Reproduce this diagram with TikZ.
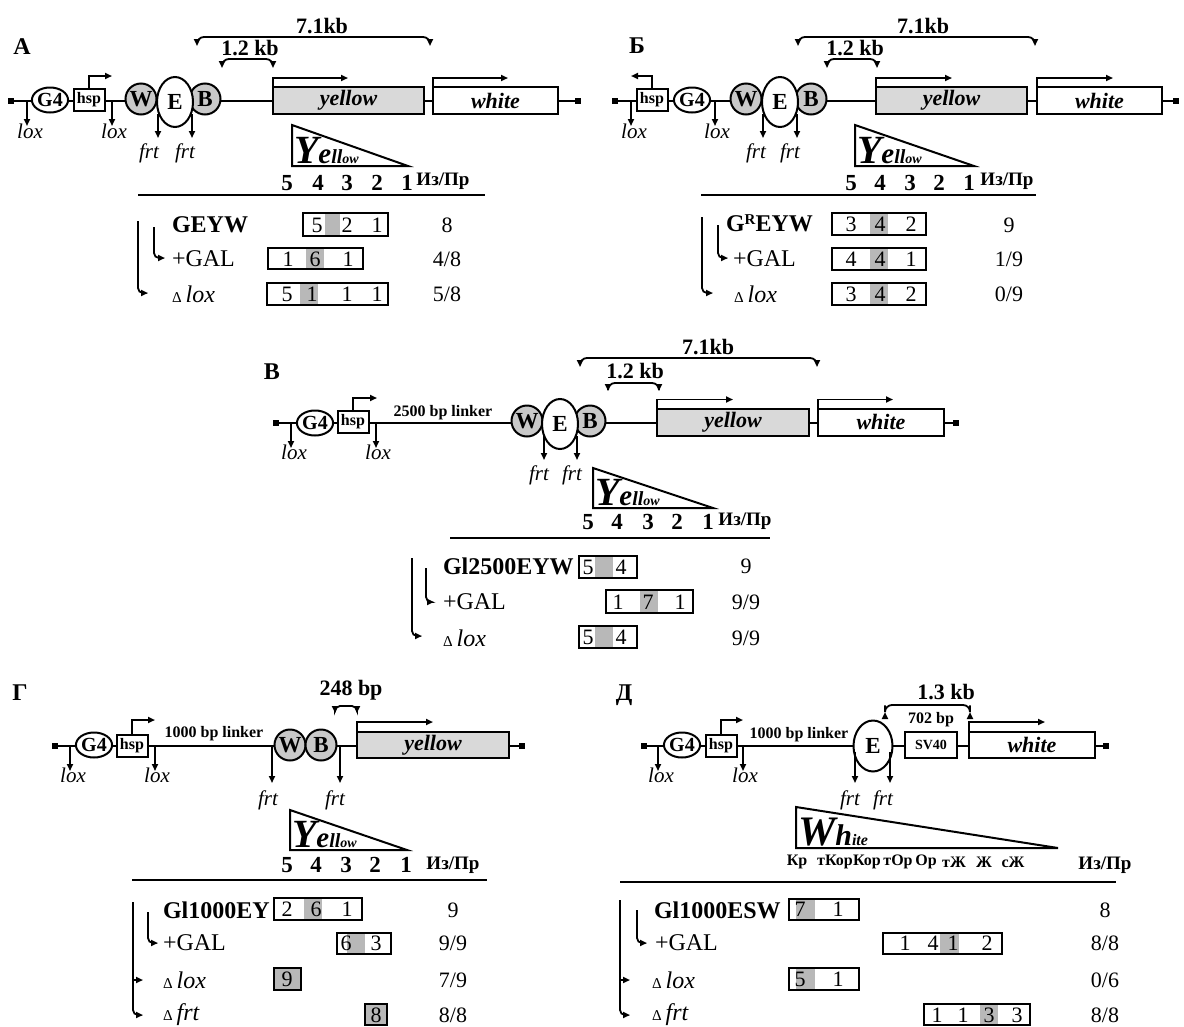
\documentclass[tikz,border=0pt]{standalone}
\usepackage{fontspec}
\setmainfont{Liberation Serif}
\usetikzlibrary{shapes.geometric, arrows.meta}
\definecolor{genegray}{gray}{0.85}
\definecolor{insgray}{gray}{0.79}
\definecolor{colgray}{gray}{0.72}
\newcommand{\fsz}[1]{\fontsize{#1}{#1}\selectfont}
\newcommand{\yellowword}{{\bfseries\itshape\fsz{40}Y\fsz{29}e\fsz{20}ll\fsz{14}ow}}
\newcommand{\whiteword}{{\bfseries\itshape\fsz{42}W\fsz{30}h\fsz{16}ite}}
\newcommand{\dsite}[1]{{\fsz{15}Δ}\,\textit{#1}}

\begin{document}
\begin{tikzpicture}[x=1pt, y=-1pt, line width=2pt,
    every node/.style={inner sep=0pt, outer sep=0pt},
    panel/.style={font=\fsz{24}\bfseries},
    endsq/.style={rectangle, fill, minimum size=6pt},
    gal4/.style={ellipse, draw, fill=white, minimum width=36pt, minimum height=25pt, font=\fsz{20}\bfseries},
    hspbox/.style={rectangle, draw, fill=white, minimum width=31pt, minimum height=22pt, font=\fsz{16}\bfseries},
    ins/.style={circle, draw, fill=insgray, minimum size=31pt, font=\fsz{23}\bfseries},
    enh/.style={ellipse, draw, fill=white, minimum width=36pt, minimum height=50pt, font=\fsz{23}\bfseries},
    gene/.style={rectangle, draw, minimum height=27pt, font=\fsz{22}\bfseries\itshape},
    sitelbl/.style={font=\fsz{21}\itshape},
    dist/.style={font=\fsz{22}\bfseries},
    linker/.style={font=\fsz{16}\bfseries},
    arr/.style={line width=1.7pt, -{Triangle[length=7pt,width=6pt]}},
    spanarr/.style={line width=1.8pt, {Triangle[length=7pt,width=6pt]}-{Triangle[length=7pt,width=6pt]}, rounded corners=7pt},
    rowarr/.style={line width=1.8pt, -{Triangle[length=7pt,width=6pt]}, rounded corners=5pt},
    grade/.style={font=\fsz{23}\bfseries},
    shade/.style={font=\fsz{16}\bfseries},
    head/.style={font=\fsz{19}\bfseries},
    rowname/.style={anchor=west, font=\fsz{24}},
    cell/.style={font=\fsz{22}},
    ratio/.style={font=\fsz{22}}]

\path[use as bounding box, fill=white] (0,0) rectangle (1184,1026);

%% ---------------- A ----------------
\node[panel] (labA) at (22,47) {A};
\coordinate (eA1) at (11,101);
\coordinate (eA2) at (578,101);
\draw (eA1) -- (eA2);
\node[endsq] (sqA1) at (eA1) {};
\node[endsq] (sqA2) at (eA2) {};
\draw[arr] (27,101) -- (27,126);
\draw[arr] (112,101) -- (112,126);
\node[sitelbl] (loxA1) at (30,131) {lox};
\node[sitelbl] (loxA2) at (114,131) {lox};
\node[gal4] (gA) at (50,100) {G4};
\node[hspbox] (hA) at (89,100) {hsp};
\draw[arr] (hA.north) |- (112,76);
\node[ins] (wA) at (141,99) {W};
\node[ins] (bA) at (205,99) {B};
\node[enh] (enA) at (175,102) {E};
\draw[arr] (158,114) -- (158,138);
\draw[arr] (192,114) -- (192,138);
\node[sitelbl] (frtA1) at (149,153) {frt};
\node[sitelbl] (frtA2) at (185,153) {frt};
\node[gene, fill=genegray, minimum width=151pt] (yA) at (348.5,100.5) {yellow};
\node[gene, fill=white, minimum width=125pt] (whA) at (495.5,100.5) {white};
\draw[arr] (yA.north west) -- ++(0,-9) -- ++(75,0);
\draw[arr] (whA.north west) -- ++(0,-9) -- ++(75,0);
\draw[spanarr] (197,46) |- (314,37) -| (430,46);
\node[dist] (dA1) at (322,26) {7.1kb};
\draw[spanarr] (222,68) |- (248,59) -| (273,68);
\node[dist] (dA2) at (250,48) {1.2 kb};
\draw (292,125) -- (292,166) -- (408,166) -- cycle;
\node[anchor=base west] (ywA) at (294,163) {\yellowword};
\foreach \x/\n in {287/5,318/4,347/3,377/2,407/1} \node[grade] (gdA\n) at (\x,183) {\n};
\node[head] (hdA) at (443,181) {Из/Пр};
\draw (138,195) -- (485,195);
% rows
\node[rowname] (rA1) at (172,225) {\bfseries GEYW};
\fill[colgray] (325,213) rectangle (340,236);
\draw (303,213) rectangle (388,236);
\foreach \x/\n [count=\i] in {317/5,347/2,377/1} \node[cell] (cA1\i) at (\x,225) {\n};
\node[ratio] (nA1) at (447,225) {8};
\node[rowname] (rA2) at (172,259) {+GAL};
\fill[colgray] (306,248) rectangle (324,269);
\draw (268,248) rectangle (363,269);
\foreach \x/\n [count=\i] in {288/1,315/6,348/1} \node[cell] (cA2\i) at (\x,259) {\n};
\node[ratio] (nA2) at (447,259) {4/8};
\node[rowname] (rA3) at (172,294) {\dsite{lox}};
\fill[colgray] (300,283) rectangle (318,305);
\draw (267,283) rectangle (388,305);
\foreach \x/\n [count=\i] in {287/5,312/1,347/1,377/1} \node[cell] (cA3\i) at (\x,294) {\n};
\node[ratio] (nA3) at (447,294) {5/8};
\draw[rowarr] (138,221) |- (148,293);
\draw[rowarr] (154,227) |- (165,258);

%% ---------------- B (Cyrillic Be) ----------------
\node[panel] (labB) at (637,46) {Б};
\coordinate (eB1) at (615,101);
\coordinate (eB2) at (1176,101);
\draw (eB1) -- (eB2);
\node[endsq] (sqB1) at (eB1) {};
\node[endsq] (sqB2) at (eB2) {};
\draw[arr] (631,101) -- (631,126);
\draw[arr] (715,101) -- (715,126);
\node[sitelbl] (loxB1) at (634,131) {lox};
\node[sitelbl] (loxB2) at (717,131) {lox};
\node[hspbox] (hB) at (652,100) {hsp};
\draw[arr] (hB.north) |- (631,76);
\node[gal4] (gB) at (692,100) {G4};
\node[ins] (wB) at (746,99) {W};
\node[ins] (bB) at (811,99) {B};
\node[enh] (enB) at (780,102) {E};
\draw[arr] (763,114) -- (763,138);
\draw[arr] (797,114) -- (797,138);
\node[sitelbl] (frtB1) at (756,153) {frt};
\node[sitelbl] (frtB2) at (790,153) {frt};
\node[gene, fill=genegray, minimum width=151pt] (yB) at (951.5,100.5) {yellow};
\node[gene, fill=white, minimum width=125pt] (whB) at (1099.5,100.5) {white};
\draw[arr] (yB.north west) -- ++(0,-9) -- ++(76,0);
\draw[arr] (whB.north west) -- ++(0,-9) -- ++(76,0);
\draw[spanarr] (798,46) |- (915,37) -| (1035,46);
\node[dist] (dB1) at (923,26) {7.1kb};
\draw[spanarr] (827,68) |- (852,59) -| (877,68);
\node[dist] (dB2) at (855,48) {1.2 kb};
\draw (855,125) -- (855,166) -- (974,166) -- cycle;
\node[anchor=base west] (ywB) at (857,163) {\yellowword};
\foreach \x/\n in {851/5,880/4,910/3,939/2,969/1} \node[grade] (gdB\n) at (\x,183) {\n};
\node[head] (hdB) at (1007,181) {Из/Пр};
\draw (701,195) -- (1036,195);
% rows
\node[rowname] (rB1) at (726,223) {\bfseries G{\fsz{15}\raisebox{7pt}{R}}EYW};
\fill[colgray] (870,213) rectangle (888,235);
\draw (832,213) rectangle (926,235);
\foreach \x/\n [count=\i] in {851/3,880/4,911/2} \node[cell] (cB1\i) at (\x,224) {\n};
\node[ratio] (nB1) at (1009,225) {9};
\node[rowname] (rB2) at (733,259) {+GAL};
\fill[colgray] (870,248) rectangle (888,270);
\draw (832,248) rectangle (926,270);
\foreach \x/\n [count=\i] in {851/4,880/4,911/1} \node[cell] (cB2\i) at (\x,259) {\n};
\node[ratio] (nB2) at (1009,259) {1/9};
\node[rowname] (rB3) at (734,294) {\dsite{lox}};
\fill[colgray] (870,283) rectangle (888,305);
\draw (832,283) rectangle (926,305);
\foreach \x/\n [count=\i] in {851/3,880/4,911/2} \node[cell] (cB3\i) at (\x,294) {\n};
\node[ratio] (nB3) at (1009,294) {0/9};
\draw[rowarr] (702,217) |- (713,293);
\draw[rowarr] (718,225) |- (728,258);

%% ---------------- V (Cyrillic Ve) ----------------
\node[panel] (labC) at (272,372) {В};
\coordinate (eC1) at (276,423);
\coordinate (eC2) at (956,423);
\draw (eC1) -- (eC2);
\node[endsq] (sqC1) at (eC1) {};
\node[endsq] (sqC2) at (eC2) {};
\draw[arr] (291,423) -- (291,448);
\draw[arr] (376,423) -- (376,448);
\node[sitelbl] (loxC1) at (294,452) {lox};
\node[sitelbl] (loxC2) at (378,452) {lox};
\node[gal4] (gC) at (315,423) {G4};
\node[hspbox] (hC) at (353,422) {hsp};
\draw[arr] (hC.north) |- (377,398);
\node[linker] (lkC) at (443,413) {2500 bp linker};
\node[ins] (wC) at (527,421) {W};
\node[ins] (bC) at (590,421) {B};
\node[enh] (enC) at (560,424) {E};
\draw[arr] (544,436) -- (544,460);
\draw[arr] (577,436) -- (577,460);
\node[sitelbl] (frtC1) at (539,475) {frt};
\node[sitelbl] (frtC2) at (572,475) {frt};
\node[gene, fill=genegray, minimum width=152pt] (yC) at (733,422) {yellow};
\node[gene, fill=white, minimum width=126pt] (whC) at (881,422) {white};
\draw[arr] (yC.north west) -- ++(0,-9) -- ++(76,0);
\draw[arr] (whC.north west) -- ++(0,-9) -- ++(75,0);
\draw[spanarr] (580,367) |- (700,358) -| (817,367);
\node[dist] (dC1) at (708,347) {7.1kb};
\draw[spanarr] (608,391) |- (633,383) -| (659,391);
\node[dist] (dC2) at (635,371) {1.2 kb};
\draw (593,468) -- (593,508) -- (713,508) -- cycle;
\node[anchor=base west] (ywC) at (595,505) {\yellowword};
\foreach \x/\n in {588/5,617/4,648/3,677/2,708/1} \node[grade] (gdC\n) at (\x,522) {\n};
\node[head] (hdC) at (745,521) {Из/Пр};
\draw (450,538) -- (770,538);
% rows
\node[rowname] (rC1) at (443,566) {\bfseries Gl2500EYW};
\fill[colgray] (595,556) rectangle (613,578);
\draw (579,556) rectangle (637,578);
\foreach \x/\n [count=\i] in {588/5,621/4} \node[cell] (cC1\i) at (\x,567) {\n};
\node[ratio] (nC1) at (746,566) {9};
\node[rowname] (rC2) at (443,602) {+GAL};
\fill[colgray] (640,590) rectangle (658,613);
\draw (606,590) rectangle (693,613);
\foreach \x/\n [count=\i] in {618/1,648/7,680/1} \node[cell] (cC2\i) at (\x,602) {\n};
\node[ratio] (nC2) at (746,602) {9/9};
\node[rowname] (rC3) at (443,638) {\dsite{lox}};
\fill[colgray] (595,626) rectangle (613,648);
\draw (579,626) rectangle (637,648);
\foreach \x/\n [count=\i] in {588/5,621/4} \node[cell] (cC3\i) at (\x,637) {\n};
\node[ratio] (nC3) at (746,638) {9/9};
\draw[rowarr] (412,558) |- (422,636);
\draw[rowarr] (426,568) |- (434,602);

%% ---------------- G (Cyrillic Ge) ----------------
\node[panel] (labD) at (20,693) {Г};
\coordinate (eD1) at (55,746);
\coordinate (eD2) at (522,746);
\draw (eD1) -- (eD2);
\node[endsq] (sqD1) at (eD1) {};
\node[endsq] (sqD2) at (eD2) {};
\draw[arr] (70,746) -- (70,771);
\draw[arr] (155,746) -- (155,771);
\node[sitelbl] (loxD1) at (73,775) {lox};
\node[sitelbl] (loxD2) at (157,775) {lox};
\node[gal4] (gD) at (94,745) {G4};
\node[hspbox] (hD) at (132,745.5) {hsp};
\draw[arr] (hD.north) |- (155,720);
\node[linker] (lkD) at (214,734) {1000 bp linker};
\draw[arr] (272,746) -- (272,783);
\node[ins] (wD) at (290,745) {W};
\node[ins] (bD) at (321,745) {B};
\draw[arr] (340,746) -- (340,783);
\node[sitelbl] (frtD1) at (268,800) {frt};
\node[sitelbl] (frtD2) at (335,800) {frt};
\node[gene, fill=genegray, minimum width=152pt, minimum height=26pt] (yD) at (433,745) {yellow};
\draw[arr] (yD.north west) -- ++(0,-10) -- ++(76,0);
\draw[spanarr, rounded corners=5pt] (335,713) |- (346,706) -| (357,713);
\node[dist] (dD1) at (351,690) {248 bp};
\draw (290,810) -- (290,850) -- (407,850) -- cycle;
\node[anchor=base west] (ywD) at (292,847) {\yellowword};
\foreach \x/\n in {287/5,316/4,346/3,375/2,406/1} \node[grade] (gdD\n) at (\x,865) {\n};
\node[head] (hdD) at (453,865) {Из/Пр};
\draw (132,880) -- (487,880);
% rows
\node[rowname] (rD1) at (163,910) {\bfseries Gl1000EY};
\fill[colgray] (304,898) rectangle (322,920);
\draw (274,898) rectangle (362,920);
\foreach \x/\n [count=\i] in {287/2,316/6,347/1} \node[cell] (cD1\i) at (\x,909) {\n};
\node[ratio] (nD1) at (453,910) {9};
\node[rowname] (rD2) at (163,943) {+GAL};
\fill[colgray] (347,933) rectangle (365,954);
\draw (337,933) rectangle (391,954);
\foreach \x/\n [count=\i] in {346/6,376/3} \node[cell] (cD2\i) at (\x,943) {\n};
\node[ratio] (nD2) at (453,943) {9/9};
\node[rowname] (rD3) at (163,980) {\dsite{lox}};
\filldraw[fill=colgray] (274,968) rectangle (301,990);
\node[cell] (cD31) at (287,979) {9};
\node[ratio] (nD3) at (453,980) {7/9};
\node[rowname] (rD4) at (163,1015) {\dsite{frt}};
\filldraw[fill=colgray] (365,1004) rectangle (387,1025);
\node[cell] (cD41) at (376,1015) {8};
\node[ratio] (nD4) at (453,1015) {8/8};
\draw[rowarr] (133,902) |- (143,1015);
\draw[arr] (133,980) -- (143,980);
\draw[rowarr] (148,912) |- (158,943);

%% ---------------- D (Cyrillic De) ----------------
\node[panel] (labE) at (624,695) {Д};
\coordinate (eE1) at (644,746);
\coordinate (eE2) at (1106,746);
\draw (eE1) -- (eE2);
\node[endsq] (sqE1) at (eE1) {};
\node[endsq] (sqE2) at (eE2) {};
\draw[arr] (658,746) -- (658,771);
\draw[arr] (743,746) -- (743,771);
\node[sitelbl] (loxE1) at (661,775) {lox};
\node[sitelbl] (loxE2) at (745,775) {lox};
\node[gal4] (gE) at (682,745) {G4};
\node[hspbox] (hE) at (721,745.5) {hsp};
\draw[arr] (hE.north) |- (743,720);
\node[linker] (lkE) at (799,735) {1000 bp linker};
\node[enh, minimum width=39pt, minimum height=51pt] (enE) at (873,746) {E};
\draw[arr] (855,752) -- (855,783);
\draw[arr] (890,752) -- (890,783);
\node[sitelbl] (frtE1) at (850,800) {frt};
\node[sitelbl] (frtE2) at (883,800) {frt};
\node[rectangle, draw, fill=white, minimum width=52pt, minimum height=26pt, font=\fsz{14}\bfseries] (svE) at (931,745) {SV40};
\node[linker] (bpE) at (931,720) {702 bp};
\node[gene, fill=white, minimum width=126pt, minimum height=26pt] (whE) at (1032,745) {white};
\draw[arr] (whE.north west) -- ++(0,-10) -- ++(76,0);
\draw[spanarr] (885,712) |- (927,705) -| (970,712);
\node[dist] (dE1) at (946,692) {1.3 kb};
\draw (796,807) -- (796,848) -- (1058,848) -- cycle;
\node[anchor=base west] (wwE) at (798,845) {\whiteword};
\foreach \x/\t [count=\i] in {797/Кр,835/тКор,867/Кор,898/тОр,926/Ор,954/тЖ,984/Ж,1013/сЖ}
  \node[shade] (kE\i) at (\x,862) {\t};
\node[head] (hdE) at (1105,865) {Из/Пр};
\draw (620,882) -- (1116,882);
% rows
\node[rowname] (rE1) at (654,910) {\bfseries Gl1000ESW};
\fill[colgray] (796,899) rectangle (815,920);
\draw (789,899) rectangle (859,920);
\foreach \x/\n [count=\i] in {800/7,838/1} \node[cell] (cE1\i) at (\x,909) {\n};
\node[ratio] (nE1) at (1105,910) {8};
\node[rowname] (rE2) at (655,943) {+GAL};
\fill[colgray] (940,933) rectangle (959,954);
\draw (883,933) rectangle (1002,954);
\foreach \x/\n [count=\i] in {905/1,933/4,953/1,987/2} \node[cell] (cE2\i) at (\x,943) {\n};
\node[ratio] (nE2) at (1105,943) {8/8};
\node[rowname] (rE3) at (652,980) {\dsite{lox}};
\fill[colgray] (796,968) rectangle (815,990);
\draw (789,968) rectangle (859,990);
\foreach \x/\n [count=\i] in {800/5,838/1} \node[cell] (cE3\i) at (\x,979) {\n};
\node[ratio] (nE3) at (1105,980) {0/6};
\node[rowname] (rE4) at (652,1015) {\dsite{frt}};
\fill[colgray] (980,1004) rectangle (998,1025);
\draw (924,1004) rectangle (1030,1025);
\foreach \x/\n [count=\i] in {937/1,963/1,989/3,1017/3} \node[cell] (cE4\i) at (\x,1015) {\n};
\node[ratio] (nE4) at (1105,1015) {8/8};
\draw[rowarr] (620,900) |- (630,1015);
\draw[arr] (620,980) -- (630,980);
\draw[rowarr] (637,910) |- (647,943);
\end{tikzpicture}
\end{document}
